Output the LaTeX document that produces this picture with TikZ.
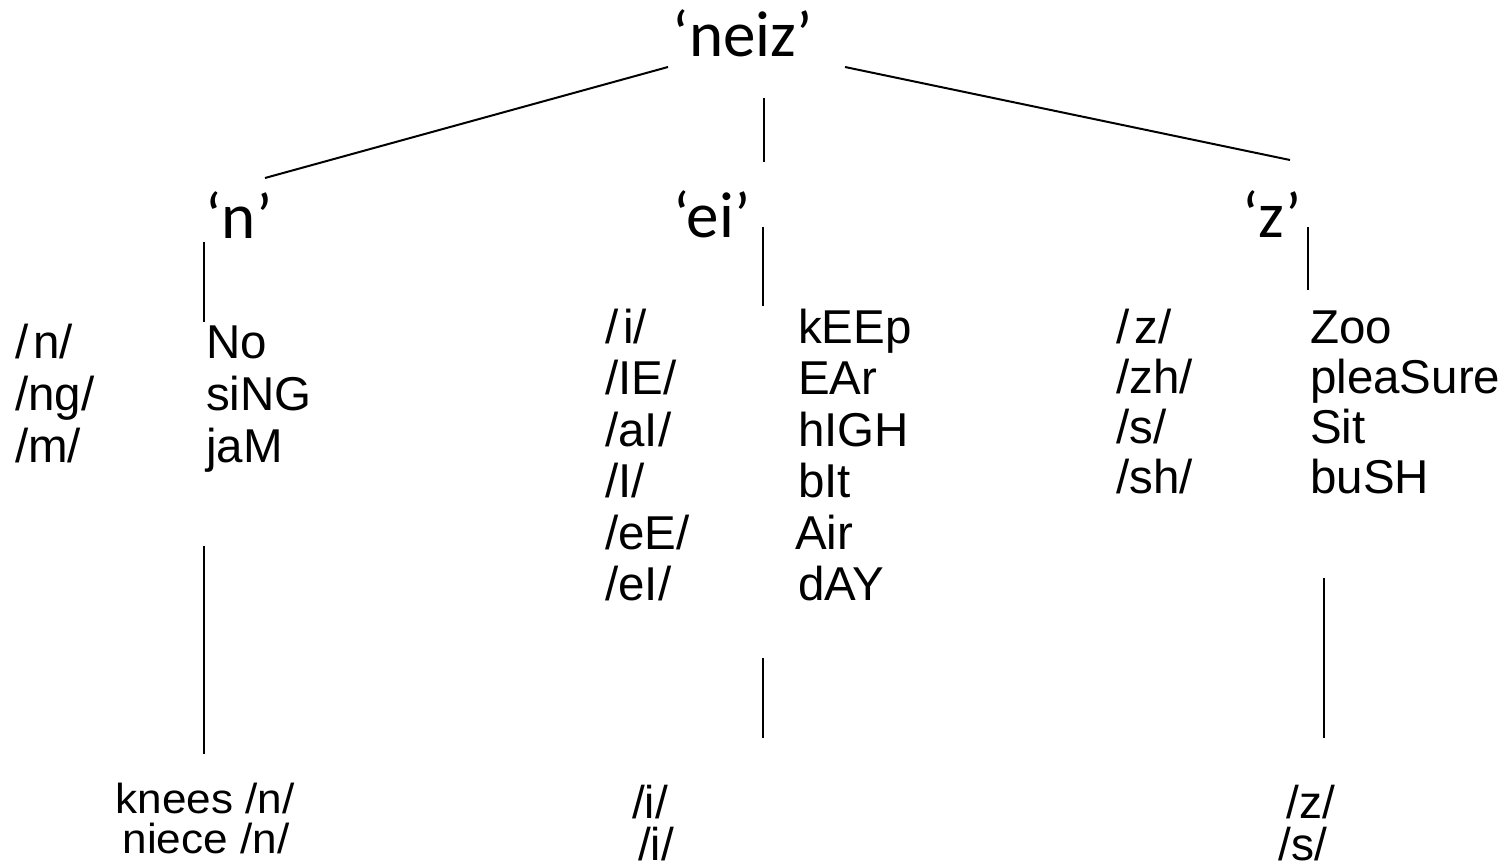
\documentclass[tikz,border=0pt]{standalone}
\usepackage{fontspec}
\setmainfont{Liberation Sans}
\newfontfamily\headfont{Carlito}
\begin{document}
\begin{tikzpicture}[x=1pt,y=-1pt,
  head/.style={font=\headfont\fontsize{65}{65}\selectfont, inner sep=0pt, anchor=base},
  item/.style={font=\fontsize{47.5}{47.5}\selectfont, inner sep=0pt, anchor=base west},
  bot/.style={font=\fontsize{42}{42}\selectfont, inner sep=0pt, anchor=base},
  link/.style={line width=2pt, black}]
\useasboundingbox (0,0) rectangle (1510,867);
% headings
\node[head] (neiz) at (743,57) {‘neiz’};
\node[head] (hn) at (239,238) {‘n’};
\node[head] (hei) at (712,237) {‘ei’};
\node[head] (hz) at (1272,237) {‘z’};
% connector end points
\coordinate (a1) at (668,67);  \coordinate (a2) at (265,178);
\coordinate (b1) at (845,67);  \coordinate (b2) at (1290,160);
\coordinate (c1) at (764,98);  \coordinate (c2) at (764,162);
\coordinate (n1) at (204,242); \coordinate (n2) at (204,322);
\coordinate (e1) at (763,227); \coordinate (e2) at (763,306);
\coordinate (z1) at (1308,227);\coordinate (z2) at (1308,290);
\coordinate (n3) at (204,546); \coordinate (n4) at (204,754);
\coordinate (e3) at (763,658); \coordinate (e4) at (763,738);
\coordinate (z3) at (1324,578);\coordinate (z4) at (1324,738);
\draw[link] (a1) -- (a2);
\draw[link] (b1) -- (b2);
\draw[link] (c1) -- (c2);
\draw[link] (n1) -- (n2);
\draw[link] (e1) -- (e2);
\draw[link] (z1) -- (z2);
\draw[link] (n3) -- (n4);
\draw[link] (e3) -- (e4);
\draw[link] (z3) -- (z4);
% left column
\node[item] (p1) at (15,358) {/\kern5pt n/};
\node[item] (p2) at (15,410) {/ng/};
\node[item] (p3) at (15,462) {/m/};
\node[item] (w1) at (206,358) {No};
\node[item] (w2) at (206,410) {siNG};
\node[item] (w3) at (206,462) {jaM};
% middle column
\node[item] (q1) at (605,343) {/\kern5pt i/};
\node[item] (q2) at (605,394) {/IE/};
\node[item] (q3) at (605,446) {/aI/};
\node[item] (q4) at (605,497) {/I/};
\node[item] (q5) at (605,549) {/eE/};
\node[item] (q6) at (605,600) {/eI/};
\node[item] (v1) at (798,343) {kEEp};
\node[item] (v2) at (798,394) {EAr};
\node[item] (v3) at (798,446) {hIGH};
\node[item] (v4) at (798,497) {bIt};
\node[item] (v5) at (795,549) {Air};
\node[item] (v6) at (798,600) {dAY};
% right column
\node[item] (r1) at (1116,343) {/\kern5pt z/};
\node[item] (r2) at (1116,393) {/zh/};
\node[item] (r3) at (1116,443) {/s/};
\node[item] (r4) at (1116,493) {/sh/};
\node[item] (u1) at (1310,343) {Zoo};
\node[item] (u2) at (1310,393) {pleaSure};
\node[item] (u3) at (1310,443) {Sit};
\node[item] (u4) at (1310,493) {buSH};
% bottom
\node[bot] (k1) at (205,813) {\scalebox{1.05}[1]{knees /n/}};
\node[bot] (k2) at (206,853) {\scalebox{1.05}[1]{niece /n/}};
\node[bot,font=\fontsize{46}{46}\selectfont] (i1) at (650,818) {/i/};
\node[bot,font=\fontsize{46}{46}\selectfont] (i2) at (656,860) {/i/};
\node[bot,font=\fontsize{46}{46}\selectfont] (s1) at (1311,818) {/z/};
\node[bot,font=\fontsize{46}{46}\selectfont] (s2) at (1303,860) {/s/};
\end{tikzpicture}
\end{document}
